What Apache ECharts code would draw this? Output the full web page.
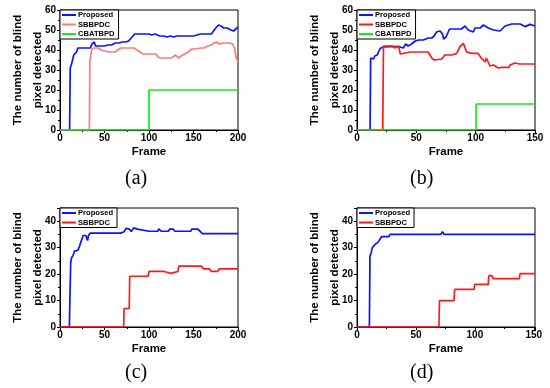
<!DOCTYPE html>
<html>
<head>
<meta charset="utf-8">
<script src="https://cdn.jsdelivr.net/npm/echarts@6/dist/echarts.min.js"></script>
<style>html,body{margin:0;padding:0;background:#fff;}#c{width:550px;height:388px;}</style>
</head>
<body>
<div id="c"></div>
<script>
// ---------- data ----------
const legendNames = ['Proposed', 'SBBPDC', 'CBATBPD'];
const captions = ['(a)', '(b)', '(c)', '(d)'];
const xMax = [200, 150, 200, 151];
const yMax = [60, 60, 45, 45];
const xTicks = [0, 50, 100, 150, 200];
const yTicks = [0, 10, 20, 30, 40, 50, 60];

// (a)
const aPropX = [0, 10.8, 11.5, 13, 15.5, 18.5, 20, 25, 30, 31.5, 34, 36, 38.5, 40, 42, 45, 47, 50, 54, 58, 62, 66, 70, 74, 77, 80, 84, 90, 95, 100, 103, 107, 112, 117, 120, 124, 128, 131, 140, 150, 158, 165, 170, 172, 175, 178, 181, 184, 188, 192, 195, 197, 200];
const aPropY = [0, 0, 31, 33, 37.5, 39, 41, 41, 41, 40, 41, 43, 44, 42, 41, 42, 41, 42, 42.5, 42.5, 43.5, 43.5, 44, 44, 44.5, 46, 48, 48, 48, 48, 47.5, 48, 47, 47, 46.5, 47, 46.5, 47, 47, 47, 48, 48, 48, 47.5, 51, 52.5, 52, 51, 51, 50, 49.5, 50.5, 51.5];
const aSbX = [0, 33, 33.5, 35, 35.6, 39, 43, 46, 48, 55, 62, 65, 68, 75, 83, 85, 90, 93, 100, 108, 110, 113, 118, 125, 127, 130, 133, 136, 140, 144, 148, 152, 158, 162, 166, 170, 173, 176, 179, 183, 190, 194, 196, 198, 200];
const aSbY = [0, 0, 34, 34, 40.5, 41, 41, 40, 39, 39, 39, 40, 41, 41, 41, 40, 39, 38, 38, 38, 36.5, 36, 36, 36, 37, 37.5, 36, 37, 38, 39, 40.5, 40.5, 41, 41, 42, 42.5, 43.5, 44, 43, 43.5, 43.5, 43, 41, 36, 34];
const aCbX = [0, 100, 100, 200];
const aCbY = [0, 0, 20, 20];

// (b)
const bPropX = [0, 11, 11.5, 13, 14, 15, 16, 17, 18, 19.5, 22, 28, 35, 36.5, 39, 41, 43, 46, 49, 52, 56, 60, 63, 65, 67, 70, 72, 73, 75, 76, 78, 83, 88, 91, 93.7, 98, 99.5, 103.7, 106.5, 110.7, 115, 120.6, 124.8, 130.4, 137.4, 141.6, 145.8, 150];
const bPropY = [0, 0, 36, 36.5, 35.5, 37, 36, 37.5, 36.5, 40.8, 41.5, 41.7, 41.7, 40.8, 41, 43, 42, 43, 44.5, 45, 45, 46, 46, 47, 49, 49.5, 48, 45.5, 46.5, 46, 50.5, 50.5, 50.5, 52, 50, 49, 51, 51, 52.5, 51, 50, 49.5, 52, 53, 53, 51.7, 52.8, 52];
const bSbX = [0, 21.7, 22.3, 25, 30, 32, 33, 35, 36.5, 38, 45, 50, 60, 63, 65, 71.4, 74, 79.7, 84, 86.8, 89.6, 92.4, 96.6, 102, 105, 108, 109, 112, 115, 116, 119, 122, 128, 129, 133, 137, 150];
const bSbY = [0, 0, 42, 42, 42, 41, 42, 42, 38, 38, 39, 39, 39, 36, 35, 35.5, 37.5, 37.5, 38.3, 41.7, 43.3, 39, 38.3, 38.3, 35.8, 34, 36, 32, 32.5, 33.5, 31, 31.3, 31.3, 32.5, 33.5, 33, 33];
const bCbX = [0, 100.3, 100.3, 150];
const bCbY = [0, 0, 13, 13];

// (c)
const cPropX = [0, 10.5, 12, 13, 14.6, 16.5, 20, 22, 24, 26, 29, 31, 32, 33, 34, 68, 70, 72, 74, 78, 80, 83, 87, 89, 100, 110, 111, 114, 122, 123, 127, 129, 147, 148, 155, 157, 160, 200];
const cPropY = [0, 0, 24.3, 26.2, 27, 28.8, 29, 30.6, 32.7, 34.6, 34.6, 32.7, 34.6, 35.2, 35.5, 35.5, 36.1, 36, 37.3, 37, 36.1, 37.5, 37, 36.4, 36.2, 36.2, 37.1, 36.2, 36.2, 37, 37, 36.2, 36.2, 37, 37, 36.5, 35.3, 35.3];
const cSbX = [0, 71.5, 72, 77.8, 78.3, 99, 100, 117, 118, 124.5, 125.5, 132.5, 133.5, 159, 161, 168, 170, 177, 179, 200];
const cSbY = [0, 0, 7, 7, 19.2, 19.2, 21, 21, 20.3, 20.3, 21, 21, 23, 23, 22, 22, 21, 21, 22, 22];

// (d)
const dPropX = [0, 10.5, 11, 12, 13, 15.5, 18, 19.5, 21, 27, 28, 71, 72.5, 74, 151];
const dPropY = [0, 0, 26.8, 28, 30, 31.3, 32.2, 33.2, 34.2, 34.2, 35, 35, 36, 35, 35];
const dSbX = [0, 69.5, 70, 82.3, 82.8, 99.3, 99.8, 111.3, 111.8, 114.5, 115.5, 137.8, 138.3, 151];
const dSbY = [0, 0, 10, 10, 14.2, 14.2, 16.1, 16.1, 19.4, 19.4, 18.3, 18.3, 20.2, 20.2];

// ---------- build ----------
const zip = (xs, ys) => xs.map((x, i) => [x, ys[i]]);
const BLUE = '#0a14ff', PINK = '#ff7b7b', RED = '#ff1a1a', GREEN = '#12ee12';
const FONT = 'Liberation Sans, Arial, sans-serif';

const panels = [
  { grid: { left: 60, top: 10, width: 178, height: 120 }, cap: [137, 180],
    series: [['Proposed', BLUE, aPropX, aPropY], ['SBBPDC', PINK, aSbX, aSbY], ['CBATBPD', GREEN, aCbX, aCbY]] },
  { grid: { left: 357, top: 10, width: 178, height: 120 }, cap: [422, 180],
    series: [['Proposed', BLUE, bPropX, bPropY], ['SBBPDC', RED, bSbX, bSbY], ['CBATBPD', GREEN, bCbX, bCbY]] },
  { grid: { left: 60, top: 208, width: 178, height: 119 }, cap: [137, 374],
    series: [['Proposed', BLUE, cPropX, cPropY], ['SBBPDC', RED, cSbX, cSbY]] },
  { grid: { left: 357, top: 208, width: 178, height: 119 }, cap: [422, 374],
    series: [['Proposed', BLUE, dPropX, dPropY], ['SBBPDC', RED, dSbX, dSbY]] }
];

const option = { animation: false, backgroundColor: '#fff', grid: [], xAxis: [], yAxis: [], series: [], legend: [], graphic: [] };

panels.forEach((p, i) => {
  option.grid.push(Object.assign({ show: true, borderColor: '#000', borderWidth: 1, backgroundColor: 'transparent' }, p.grid));
  const axisCommon = {
    axisLine: { show: true, lineStyle: { color: '#000', width: 1 } },
    axisTick: { show: true, inside: false, length: 3, lineStyle: { color: '#000' } },
    minorTick: { show: true, splitNumber: 2, length: 2, lineStyle: { color: '#000' } },
    splitLine: { show: false },
    nameMoveOverlap: false
  };
  option.xAxis.push(Object.assign({}, axisCommon, {
    type: 'value', gridIndex: i, min: 0, max: xMax[i], interval: 50,
    axisLabel: { color: '#000', fontFamily: FONT, fontWeight: 'bold', fontSize: 10, margin: 3,
      formatter: v => xTicks.indexOf(v) >= 0 ? String(v) : '' },
    name: 'Frame', nameLocation: 'middle', nameGap: 16,
    nameTextStyle: { color: '#000', fontFamily: FONT, fontWeight: 'bold', fontSize: 11.5 }
  }));
  option.yAxis.push(Object.assign({}, axisCommon, {
    type: 'value', gridIndex: i, min: 0, max: yMax[i], interval: 10,
    axisLabel: { color: '#000', fontFamily: FONT, fontWeight: 'bold', fontSize: 10, margin: 4,
      formatter: v => yTicks.indexOf(v) >= 0 ? String(v) : '' },
    name: 'The number of blind\npixel detected', nameLocation: 'middle', nameRotate: 90, nameGap: 12,
    nameTextStyle: { color: '#000', fontFamily: FONT, fontWeight: 'bold', fontSize: 11.5, lineHeight: 20 }
  }));
  const names = [];
  p.series.forEach(([nm, col, xs, ys]) => {
    const full = nm + '_' + i;
    names.push(full);
    option.series.push({
      type: 'line', name: full, xAxisIndex: i, yAxisIndex: i,
      data: zip(xs, ys), symbol: 'none', showSymbol: false,
      lineStyle: { color: col, width: 1.7 }, itemStyle: { color: col },
      emphasis: { disabled: true }
    });
  });
  option.legend.push({
    data: names, orient: 'vertical', left: p.grid.left, top: p.grid.top,
    icon: 'rect', itemWidth: 14, itemHeight: 2, itemGap: 1.5,
    padding: [1, 4, 1, 2], borderColor: '#000', borderWidth: 1, backgroundColor: '#fff',
    formatter: n => n.replace(/_\d+$/, ''),
    textStyle: { color: '#000', fontFamily: FONT, fontWeight: 'bold', fontSize: 7.6, lineHeight: 8, padding: [0, 0, 0, -3] },
    selectedMode: false
  });
  option.graphic.push({
    type: 'text', left: p.cap[0] - 12, top: p.cap[1] - 11,
    style: { text: captions[i], fontFamily: 'Liberation Serif, Times New Roman, serif', fontSize: 20, fill: '#000' }
  });
});

const chart = echarts.init(document.getElementById('c'), null, { renderer: 'canvas' });
chart.setOption(option);
</script>
</body>
</html>
